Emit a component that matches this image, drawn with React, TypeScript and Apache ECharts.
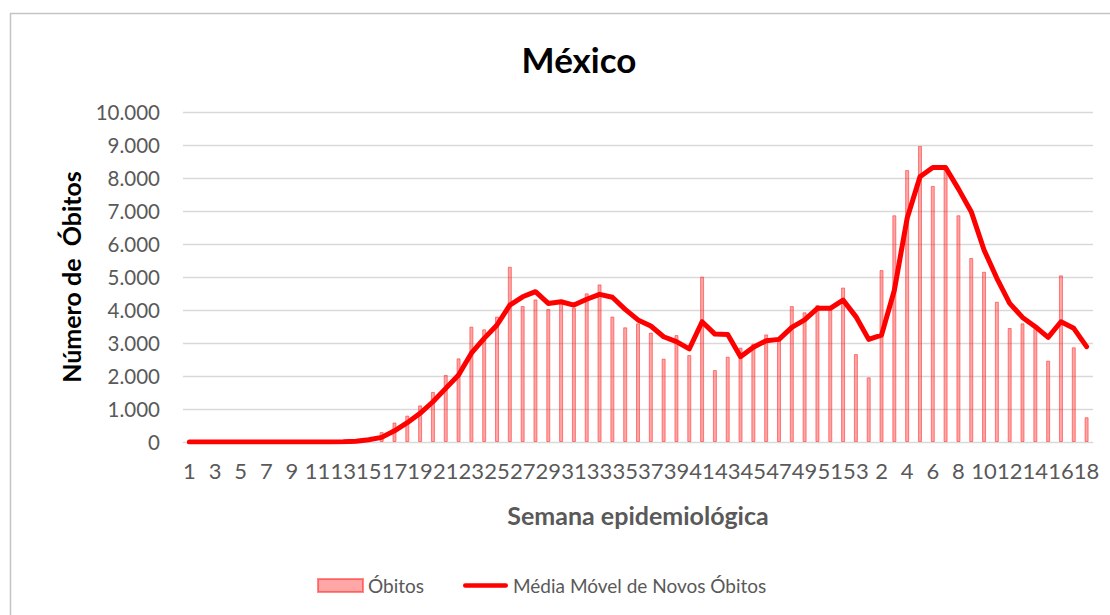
import React, { useEffect, useRef } from "react";
import * as echarts from "echarts";

const weeks2020: string[] = Array.from({ length: 53 }, (_, i) => String(i + 1));
const weeks2021: string[] = Array.from({ length: 18 }, (_, i) => String(i + 1));
const categories: string[] = [...weeks2020, ...weeks2021];

const obitos: number[] = [
  0, 0, 0, 0, 0, 0, 0, 0, 0, 0, 0, 0, 0, 10, 50, 300, 590, 800, 1110, 1515,
  2030, 2535, 3495, 3415, 3800, 5310, 4120, 4320, 4030, 4300, 4070, 4505, 4775, 3800, 3475, 3595,
  3315, 2525, 3240, 2635, 5010, 2180, 2585, 2860, 2980, 3260, 3120, 4120, 3930, 4150, 4040, 4680,
  2665, 1960, 5210, 6870, 8240, 8970, 7760, 8260, 6870, 5575, 5160, 4250, 3455, 3595, 3450, 2465,
  5050, 2870, 750,
];

const mediaMovel: number[] = [
  0, 0, 0, 0, 0, 0, 0, 0, 0, 0, 0, 0, 5, 20, 70, 140, 340, 585, 870, 1220,
  1625, 2030, 2690, 3140, 3545, 4150, 4400, 4555, 4200, 4250, 4150, 4325, 4475, 4385, 4020, 3700,
  3515, 3190, 3040, 2820, 3645, 3270, 3260, 2585, 2870, 3070, 3110, 3475, 3700, 4050, 4050, 4300,
  3800, 3110, 3240, 4600, 6780, 8040, 8320, 8320, 7670, 6980, 5820, 4960, 4200, 3775, 3495, 3170,
  3645, 3445, 2890,
];

const FONT = "Lato, 'Open Sans', sans-serif";
const LINE_ICON = "path://M0,0 M0,13 M2.25,4.25 L42.75,4.25 A2.25,2.25 0 0 1 42.75,8.75 L2.25,8.75 A2.25,2.25 0 0 1 2.25,4.25 Z";

export default function App() {
  const ref = useRef<HTMLDivElement>(null);
  useEffect(() => {
    document.body.style.margin = "0";
    if (!ref.current) return;
    const chart = echarts.init(ref.current, undefined, { renderer: "svg" });
    chart.setOption({
      animation: false,
      backgroundColor: "#ffffff",
      textStyle: { fontFamily: FONT },
      title: {
        text: "México",
        left: 574,
        textAlign: "center",
        top: 36,
        textStyle: { fontFamily: FONT, fontWeight: "bold", fontSize: 35, color: "#000000" },
      },
      graphic: [
        {
          type: "rect",
          shape: { x: 10.5, y: 13.5, width: 1300, height: 800 },
          style: { fill: "none", stroke: "#c4c4c4", lineWidth: 1.5 },
          silent: true,
          z: -10,
        },
      ],
      legend: {
        left: 312,
        top: 571,
        itemGap: 39,
        itemWidth: 45,
        itemHeight: 13,
        textStyle: { fontFamily: FONT, fontSize: 19, color: "#595959" },
        data: [
          { name: "Óbitos", icon: "rect" },
          { name: "Média Móvel de Novos Óbitos", icon: LINE_ICON },
        ],
      },
      grid: { left: 183, right: 17, top: 112, bottom: 173, containLabel: false },
      xAxis: {
        type: "category",
        data: categories,
        boundaryGap: true,
        name: "Semana epidemiológica",
        nameLocation: "middle",
        nameGap: 60,
        nameTextStyle: { fontFamily: FONT, fontWeight: "bold", fontSize: 25, color: "#595959" },
        axisLine: { lineStyle: { color: "#d9d9d9", width: 1 } },
        axisTick: { show: false },
        axisLabel: { interval: 1, fontFamily: FONT, fontSize: 22, color: "#595959", margin: 17 },
      },
      yAxis: {
        type: "value",
        min: 0,
        max: 10000,
        interval: 1000,
        name: "Número de  Óbitos",
        nameLocation: "middle",
        nameGap: 100,
        nameTextStyle: { fontFamily: FONT, fontWeight: "bold", fontSize: 25, color: "#000000" },
        axisLine: { show: false },
        axisTick: { show: false },
        splitLine: { lineStyle: { color: "#d9d9d9", width: 1.3 } },
        axisLabel: {
          fontFamily: FONT,
          fontSize: 20.5,
          color: "#595959",
          margin: 23,
          formatter: (v: number) => (v === 0 ? "0" : v.toLocaleString("de-DE")),
        },
      },
      series: [
        {
          name: "Óbitos",
          type: "bar",
          data: obitos,
          barWidth: 4,
          itemStyle: {
            color: "rgba(255,0,0,0.35)",
            borderColor: "rgba(255,40,40,0.55)",
            borderWidth: 1,
          },
          z: 2,
        },
        {
          name: "Média Móvel de Novos Óbitos",
          type: "line",
          data: mediaMovel,
          symbol: "none",
          showSymbol: false,
          lineStyle: { color: "#ff0000", width: 5, cap: "round", join: "round" },
          itemStyle: { color: "#ff0000" },
          z: 3,
        },
      ],
    });
    return () => chart.dispose();
  }, []);
  return <div ref={ref} style={{ width: 1110, height: 615 }} />;
}
